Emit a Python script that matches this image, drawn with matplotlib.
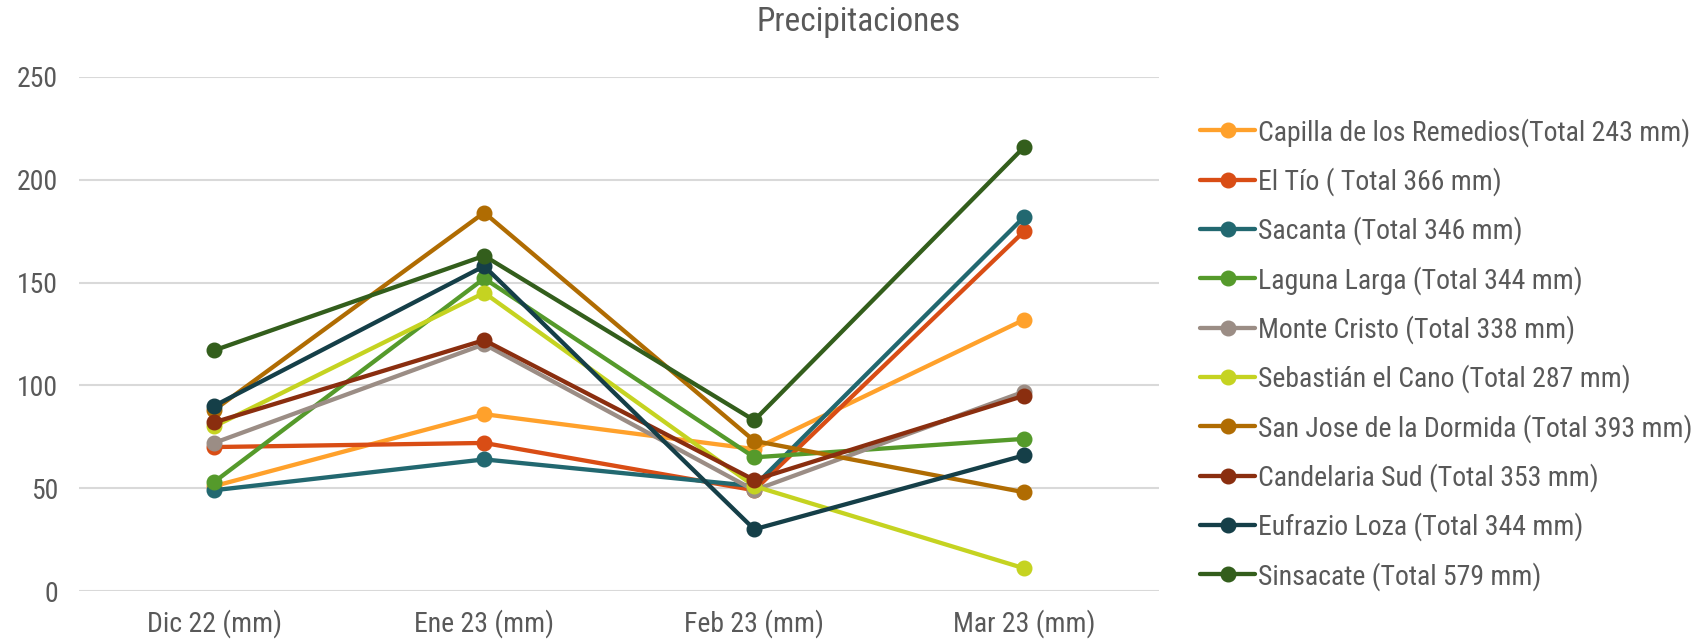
import matplotlib
matplotlib.use("Agg")
import matplotlib.pyplot as plt

plt.rcParams['font.family'] = ['Roboto Condensed', 'Roboto', 'DejaVu Sans']

categories = ["Dic 22 (mm)", "Ene 23 (mm)", "Feb 23 (mm)", "Mar 23 (mm)"]
series_names = [
    "Capilla de los Remedios(Total 243 mm)",
    "El Tío ( Total 366 mm)",
    "Sacanta (Total 346 mm)",
    "Laguna Larga (Total 344 mm)",
    "Monte Cristo (Total 338 mm)",
    "Sebastián el Cano (Total 287 mm)",
    "San Jose de la Dormida (Total 393 mm)",
    "Candelaria Sud (Total 353 mm)",
    "Eufrazio Loza (Total 344 mm)",
    "Sinsacate (Total 579 mm)",
]
capilla = [51, 86, 69, 132]
el_tio = [70, 72, 49, 175]
sacanta = [49, 64, 51, 182]
laguna_larga = [53, 152, 65, 74]
monte_cristo = [72, 120, 49, 97]
sebastian = [80, 145, 51, 11]
san_jose = [88, 184, 73, 48]
candelaria = [82, 122, 54, 95]
eufrazio = [90, 158, 30, 66]
sinsacate = [117, 163, 83, 216]
values = [capilla, el_tio, sacanta, laguna_larga, monte_cristo,
          sebastian, san_jose, candelaria, eufrazio, sinsacate]
colors = ["#FFA12B", "#D94D15", "#226870", "#559A2B", "#9B8D85",
          "#C5D321", "#B06C02", "#8A2E0F", "#153F48", "#335E1C"]
yticks = [0, 50, 100, 150, 200, 250]

fig = plt.figure(figsize=(17, 6.41), dpi=100)
ax = fig.add_axes([0.0465, 0.078, 0.6355, 0.802])
x = list(range(len(categories)))
for name, vals, c in zip(series_names, values, colors):
    ax.plot(x, vals, color=c, lw=3.1, marker='o', markersize=10.5,
            label=name, solid_capstyle='round')

ax.set_xlim(-0.5, 3.5)
ax.set_ylim(0, 250)
ax.set_yticks(yticks)
ax.set_xticks(x)
ax.set_xticklabels(categories)
ax.grid(axis='y', color='#D9D9D9', lw=1.5)
ax.set_axisbelow(True)
for s in ax.spines.values():
    s.set_visible(False)
ax.tick_params(axis='both', length=0, labelsize=20, colors='#595959', pad=15)
ax.tick_params(axis='x', pad=13)

fig.text(0.505, 0.966, "Precipitaciones", ha='center', va='center',
         fontsize=24, color='#595959')

leg = fig.legend(loc='upper left', bbox_to_anchor=(0.6976, 0.838), frameon=False,
                 fontsize=20, labelcolor='#595959', handlelength=2.0,
                 handletextpad=0.1, labelspacing=0.74, borderpad=0)

fig.savefig("out.png", dpi=100)
